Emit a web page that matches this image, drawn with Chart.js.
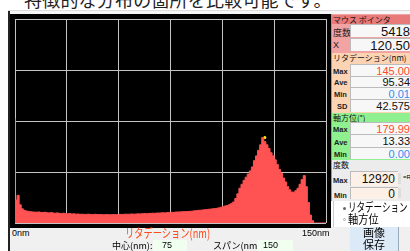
<!DOCTYPE html>
<html>
<head>
<meta charset="utf-8">
<script src="https://cdn.jsdelivr.net/npm/chart.js@4"></script>
<style>
  body { margin: 0; width: 410px; height: 251px; overflow: hidden; background: #fff; position: relative;
         font-family: "Noto Sans CJK JP", "Liberation Sans", sans-serif; }
  .abs { position: absolute; }
  #headline { left: 24px; top: -10px; font-size: 18px; line-height: 18px; color: #222; white-space: nowrap; letter-spacing: 0.2px; }
  #titlebar { left: 8px; top: 10px; width: 402px; height: 4px; background: #f6f6f6; border-top: 1px solid #ddd; }
  #frameLeft { left: 8px; top: 11px; width: 2px; height: 240px; background: #222; }
  #plotBox { left: 10px; top: 14px; width: 321px; height: 214px; background: #000; }
  #histCanvas { position: absolute; left: 11px; top: 15px; }
  #bottomBar { left: 10px; top: 228px; width: 321px; height: 23px; background: #f0f0f0; }
  .small { font-family: "Liberation Sans", sans-serif; font-size: 9px; color: #000; white-space: nowrap; }
  .panelRow { left: 331px; width: 79px; }
  .lab { font-family: "Liberation Sans", sans-serif; font-size: 7.5px; font-weight: bold; color: #222; }
  .val { left: 350px; width: 60px; background: #f7f7f7; border-top: 1px solid #bbb; border-left: 1px solid #bbb; box-sizing: border-box;
         text-align: right; font-family: "Liberation Sans", sans-serif; color: #111; white-space: nowrap; overflow: hidden; }
  .hdr { font-size: 8px; line-height: 9px; padding-left: 2px; box-sizing: border-box; color: #111; white-space: nowrap; }
  .narrow { transform-origin: left top; white-space: nowrap; }
</style>
</head>
<body>
<div id="headline" class="abs">特徴的な分布の箇所を比較可能です。</div>
<div id="titlebar" class="abs"></div>
<div id="frameLeft" class="abs"></div>
<div id="plotBox" class="abs"></div>
<canvas id="histCanvas" width="319" height="212"></canvas>

<div id="bottomBar" class="abs"></div>
<div class="abs small" style="left:12px; top:228px;">0nm</div>
<div class="abs narrow" style="left:125px; top:226px; font-size:12.5px; line-height:14px; color:#ff4a1c; transform:scaleX(0.74);">リタデーション(nm)</div>
<div class="abs small" style="left:302px; top:228px;">150nm</div>
<div class="abs small" style="left:112px; top:240px; font-family:'Noto Sans CJK JP'; font-size:9px; line-height:11px;">中心(nm):</div>
<div class="abs small" style="left:153px; top:240px; width:34px; height:11px; background:#f1fff1; line-height:11px; padding-left:9px; box-sizing:border-box;">75</div>
<div class="abs small" style="left:213px; top:240px; font-family:'Noto Sans CJK JP'; font-size:9px; line-height:11px;">スパン(nm):</div>
<div class="abs small" style="left:257px; top:240px; width:36px; height:11px; background:#f1fff1; line-height:11px; padding-left:6px; box-sizing:border-box;">150</div>

<!-- right panel -->
<div class="abs panelRow" style="top:14px; height:40px; background:#f2a4a4; border-left:1px solid #999;"></div>
<div class="abs panelRow hdr" style="top:15px; height:9px; background:#e87a7a;">マウス ポインタ</div>
<div class="abs lab" style="left:333px; top:26px; font-size:9px; font-weight:normal; font-family:'Noto Sans CJK JP';">度数</div>
<div class="abs val" style="top:24px; height:13px; font-size:13px; line-height:13px;">5418</div>
<div class="abs lab" style="left:333px; top:40px; font-size:9px; font-weight:normal;">X</div>
<div class="abs val" style="top:38px; height:13px; font-size:13px; line-height:13px;">120.50</div>

<div class="abs panelRow" style="top:53px; height:60px; background:#fcd4b4; border-left:1px solid #999;"></div>
<div class="abs panelRow hdr" style="top:53px; height:10px;">リタデーション(nm)</div>
<div class="abs lab" style="left:333px; top:67px;">Max</div>
<div class="abs val" style="top:64px; height:12px; font-size:11px; line-height:12px; color:#ff4a2a;">145.00</div>
<div class="abs lab" style="left:334px; top:78px;">Ave</div>
<div class="abs val" style="top:76px; height:11px; font-size:11px; line-height:11px;">95.34</div>
<div class="abs lab" style="left:334px; top:90px;">Min</div>
<div class="abs val" style="top:87px; height:12px; font-size:11px; line-height:12px; color:#2f8ff0;">0.01</div>
<div class="abs lab" style="left:337px; top:102px;">SD</div>
<div class="abs val" style="top:99px; height:13px; font-size:11px; line-height:13px;">42.575</div>

<div class="abs panelRow" style="top:113px; height:47px; background:#8ff08f; border-left:1px solid #999;"></div>
<div class="abs panelRow hdr" style="top:113px; height:9px;">軸方位(°)</div>
<div class="abs lab" style="left:333px; top:125px;">Max</div>
<div class="abs val" style="top:122px; height:12px; font-size:11px; line-height:12px; color:#ff4a2a;">179.99</div>
<div class="abs lab" style="left:334px; top:138px;">Ave</div>
<div class="abs val" style="top:134px; height:13px; font-size:11px; line-height:13px;">13.33</div>
<div class="abs lab" style="left:334px; top:150px;">Min</div>
<div class="abs val" style="top:147px; height:12px; font-size:11px; line-height:12px; color:#2f8ff0;">0.00</div>

<div class="abs panelRow" style="top:160px; height:41px; background:#ececec; border-left:1px solid #999;"></div>
<div class="abs panelRow hdr" style="top:160px; height:10px; font-size:8px;">度数</div>
<div class="abs lab" style="left:333px; top:176px;">Max</div>
<div class="abs val" style="top:171px; width:48px; height:15px; font-size:12px; line-height:15px; background:#fdf0e6; padding-right:3px;">12920</div>
<div class="abs small" style="left:398px; top:173px; width:3px; height:11px; background:#ddd;"></div>
<div class="abs small" style="left:403px; top:174px; font-size:6px;">=R</div>
<div class="abs lab" style="left:334px; top:191px;">Min</div>
<div class="abs val" style="top:187px; width:48px; height:12px; font-size:12px; line-height:12px; background:#fdf0e6; padding-right:3px;">0</div>
<div class="abs small" style="left:398px; top:188px; width:3px; height:10px; background:#ddd;"></div>

<div class="abs" style="left:333px; top:201px; width:77px; height:26px; background:#fff; border-left:1px solid #ccc;"></div>
<div class="abs" style="left:343px; top:207px; width:3px; height:3px; border-radius:50%; background:#666;"></div>
<div class="abs narrow" style="left:348px; top:200px; font-size:12px; line-height:13px; transform:scaleX(0.71);">リタデーション</div>
<div class="abs" style="left:343px; top:218px; width:3px; height:3px; border-radius:50%; border:1px solid #aaa; box-sizing:border-box;"></div>
<div class="abs narrow" style="left:348px; top:212px; font-size:12px; line-height:13px; transform:scaleX(0.85);">軸方位</div>

<div class="abs" style="left:331px; top:227px; width:79px; height:24px; background:#f0f0f0;"></div>
<div class="abs" style="left:350px; top:227px; width:48px; height:24px; background:#dce9f6; border-right:1px solid #9ab; text-align:center; font-size:11px; line-height:11.5px;">画像<br>保存</div>

<script>
// Histogram of retardation (nm), 1 nm bins starting at 0 nm
const binWidthNm = 1;
const retardationCounts = [
  6650, 1450, 1750, 1150, 900, 800, 760, 740, 720, 700,
  690, 680, 700, 670, 660, 680, 650, 640, 660, 630,
  620, 640, 610, 600, 620, 590, 580, 600, 570, 580,
  560, 570, 550, 560, 540, 550, 560, 540, 530, 550,
  540, 530, 540, 520, 530, 540, 520, 530, 540, 530,
  540, 550, 540, 550, 560, 550, 560, 570, 560, 570,
  580, 570, 590, 600, 590, 600, 610, 620, 610, 630,
  630, 640, 650, 640, 660, 670, 680, 670, 690, 700,
  700, 710, 720, 720, 730, 740, 750, 770, 780, 800,
  810, 820, 840, 850, 870, 880, 900, 910, 930, 960,
  1000, 1040, 1080, 1110, 1170, 1240, 1330, 1550, 1850, 2200,
  2450, 2700, 2900, 3100, 3300, 3550, 3950, 4250, 4600, 4950,
  5418, 5150, 4950, 4720, 4450, 4250, 4000, 3700, 3400, 3150,
  2850, 2600, 2300, 2100, 1960, 1950, 2050, 2200, 2450, 2750,
  3000, 2300, 1300, 500, 150, 0, 0, 0, 0, 0
];
// mouse pointer readout
const pointerX = [120.5];
const pointerCount = [5418];
// axis ranges
const xRangeNm = [0, 150];
const countMax = 12920;

const histPoints = retardationCounts.map((c, i) => ({ x: i * binWidthNm, y: c }));
histPoints.push({ x: xRangeNm[1], y: 0 });

const ctx = document.getElementById('histCanvas').getContext('2d');
const histChart = new Chart(ctx, {
    type: 'line',
    data: {
        datasets: [{
            label: 'リタデーション',
            data: histPoints,
            stepped: 'after',
            fill: 'origin',
            backgroundColor: '#ff5252',
            borderColor: '#ff5252',
            borderWidth: 1,
            pointRadius: 0
        }, {
            label: 'pointer',
            data: pointerX.map((x, i) => ({ x: x, y: pointerCount[i] })),
            showLine: false,
            pointRadius: 1.5,
            pointBackgroundColor: '#ffff00',
            pointBorderWidth: 0
        }]
    },
    options: {
        responsive: false,
        animation: false,
        layout: { padding: 0 },
        plugins: { legend: { display: false }, tooltip: { enabled: false } },
        scales: {
            x: {
                type: 'linear',
                min: xRangeNm[0],
                max: xRangeNm[1],
                ticks: { display: false, stepSize: 25 },
                grid: { color: '#c4c4c4', drawTicks: false },
                border: { display: false }
            },
            y: {
                min: 0,
                max: countMax,
                ticks: { display: false, stepSize: countMax / 4 },
                grid: { color: '#c4c4c4', drawTicks: false },
                border: { display: false }
            }
        }
    }
});
</script>
</body>
</html>
